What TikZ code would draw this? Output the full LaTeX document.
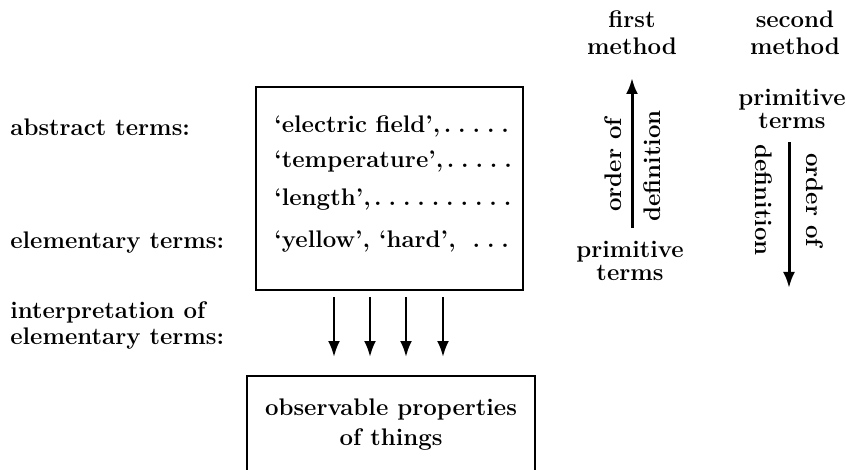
\documentclass[tikz,border=0pt]{standalone}
\usetikzlibrary{arrows.meta,calc}
\newcommand{\dd}{\hbox to 0.6em{\hss.\hss}}
\begin{document}
\begin{tikzpicture}[x=0.5pt,y=-0.5pt,
  every node/.style={font=\fontsize{12}{13.5}\selectfont\bfseries, inner sep=0pt},
  lab/.style={anchor=west},
  arr/.style={-{Latex[length=8pt,width=6pt]}, line width=1.5pt},
  sarr/.style={-{Latex[length=8pt,width=6pt]}, line width=1.3pt},
  boxline/.style={line width=1.4pt},
  twol/.style={align=center}]
\useasboundingbox (0,0) rectangle (846,470);
% left labels
\node[lab] (abs) at (10,127) {abstract terms:};
\node[lab] (ele) at (10,243) {elementary terms:};
\node[lab,align=left] (interp) at (10,325) {interpretation of\\[-0.5pt]elementary terms:};
% top box
\node[draw,boxline,minimum width=133.5pt,minimum height=101.5pt] (top) at (389.5,188.5) {};
\node[lab] (l1) at (274,126) {\hbox to 119pt{`electric field',\hfill\dd\dd\dd\dd\dd}};
\node[lab] (l2) at (274,162) {\hbox to 119pt{`temperature',\hfill\dd\dd\dd\dd\dd}};
\node[lab] (l3) at (274,200) {\hbox to 119pt{`length',\hfill\dd\dd\dd\dd\dd\dd\dd\dd\dd\dd}};
\node[lab] (l4) at (274,242) {\hbox to 119pt{`yellow', `hard',\hfill\dd\dd\dd}};
% bottom box
\node[twol] (obs) at (391,425) {observable properties\\[1.5pt]of things};
\coordinate (obstop) at (391,376);
\coordinate (bl) at (247,472);
\coordinate (br) at (535,472);
\draw[boxline] (bl) |- (obstop) -| (br);
% interpretation arrows
\foreach \dx in {-55.5,-19.5,16.5,53.5} {
  \draw[sarr] ($(top.south)+(\dx,6)$) -- ($(top.south |- obstop)+(\dx,-19)$);
}
% first method
\node[twol] (m1) at (632,33) {first\\[0pt]method};
\node[twol] (p1) at (630,261) {primitive\\[-2pt]terms};
\draw[arr] (p1.north) ++(2,-13) coordinate (u1) -- (u1 |- 0,78) coordinate (u2);
\node[rotate=90] (o1) at (613,165) {order of};
\node[rotate=90] (d1) at (652,166) {definition};
% second method
\node[twol] (m2) at (795,33) {second\\[0pt]method};
\node[twol] (p2) at (792,109) {primitive\\[-2pt]terms};
\draw[arr] (p2.south) ++(-3,13) coordinate (v1) -- (v1 |- 0,288) coordinate (v2);
\node[rotate=-90] (d2) at (764,200) {definition};
\node[rotate=-90] (o2) at (815,200) {order of};
\end{tikzpicture}
\end{document}
